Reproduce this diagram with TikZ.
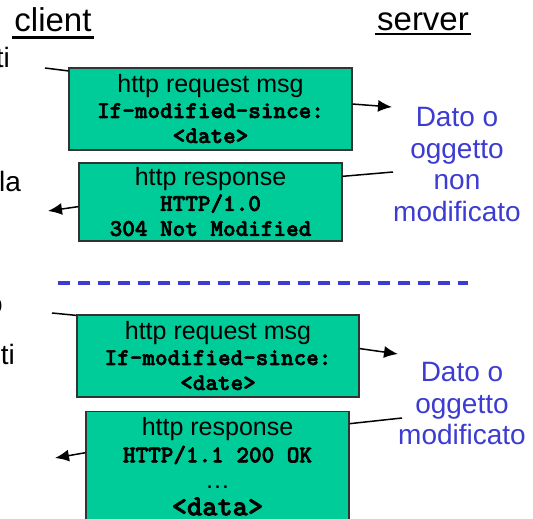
\documentclass[tikz,border=0pt]{standalone}
\usepackage{fontspec}
\setmainfont{Liberation Sans}
\newfontfamily\hmono{lmmonolt10-bold.otf}[FakeBold=2.5]
\usepackage{xcolor}
\usepackage{tikz}
\usetikzlibrary{arrows.meta,positioning}

\definecolor{boxgreen}{RGB}{0,204,153}
\definecolor{noteblue}{RGB}{60,60,210}
\newcommand{\hcode}[1]{{\hmono\fontsize{24}{25}\selectfont #1}}

\begin{document}
\begin{tikzpicture}[x=1pt,y=-1pt,>={Latex[length=14pt,width=12pt]},
    msg/.style={draw=black!80,fill=boxgreen,line width=1.2pt,align=center,inner sep=0pt,
        font=\fontsize{25}{25}\selectfont},
    note/.style={text=noteblue,align=center,font=\fontsize{28}{31.5}\selectfont},
    cut/.style={inner sep=0pt,font=\fontsize{28}{30}\selectfont},
    title/.style={anchor=base,inner xsep=2pt,font=\fontsize{33}{36}\selectfont},
    wire/.style={line width=1.5pt}]
            \useasboundingbox (0,0) rectangle (533,519);

            % titles
            \node[title,inner ysep=5pt]   (client) at (53,32)  {client};
            \node[title,inner ysep=2.5pt] (server) at (423,31) {server};
            \draw[line width=2.5pt] (client.south west) -- (client.south east);
            \draw[line width=2.5pt] (server.south west) -- (server.south east);

            % text cut at the left edge
            \node[cut,anchor=base east] (f1) at (10,67)  {ti};
            \node[cut,anchor=base west] (f2) at (-1,191) {la};
            \node[cut,anchor=base east] (f3) at (3,313)  {o};
            \node[cut,anchor=base east] (f4) at (15,364) {ti};

            % messages
            \node[msg,minimum width=283pt,minimum height=82pt] (req1) at (210.5,109)
                {http request msg\\ \hcode{If-modified-since:}\\ \hcode{<date>}};
            \node[msg,minimum width=263pt,minimum height=78pt] (resp1) at (210.5,202)
                {http response\\ \hcode{HTTP/1.0}\\ \hcode{304 Not Modified}};
            \node[msg,minimum width=282pt,minimum height=82pt] (req2) at (218,356)
                {http request msg\\ \hcode{If-modified-since:}\\ \hcode{<date>}};
            \node[msg,minimum width=263pt,minimum height=110pt,anchor=north,
                font=\fontsize{25}{26.5}\selectfont] (resp2) at (217.5,411)
                {http response\\ \hcode{HTTP/1.1 200 OK}\\ …\\
                 {\hmono\fontsize{29}{25}\selectfont <data>}};

            \node[note] (same) at (457,164.5) {Dato o\\ oggetto\\ non\\ modificato};
            \node[note] (changed) at (462,404) {Dato o\\ oggetto\\ modificato};

            % free ends
            \coordinate (c1) at (45,68);
            \coordinate (s1) at (392,107);
            \coordinate (s2) at (393,172);
            \coordinate (c2) at (48,211);
            \coordinate (c3) at (52,313);
            \coordinate (s3) at (398,354);
            \coordinate (s4) at (402,418);
            \coordinate (c4) at (55,458);

            \draw[wire] (c1) -- (req1.165);
            \draw[wire,->] (req1.2) -- (s1);
            \draw[wire] (resp1.11) -- (s2);
            \draw[wire,->] (resp1.182) -- (c2);
            \draw[wire] (c3) -- (req2.164);
            \draw[wire,->] (req2.3) -- (s3);
            \draw[wire] (resp2.18) -- (s4);
            \draw[wire,->] (resp2.174) -- (c4);

            % separator
            \coordinate (dl) at (58,283);
            \coordinate (dr) at (468,283);
            \draw[noteblue,line width=3.5pt,dash pattern=on 12pt off 8pt] (dl) -- (dr);
        \end{tikzpicture}
\end{document}
